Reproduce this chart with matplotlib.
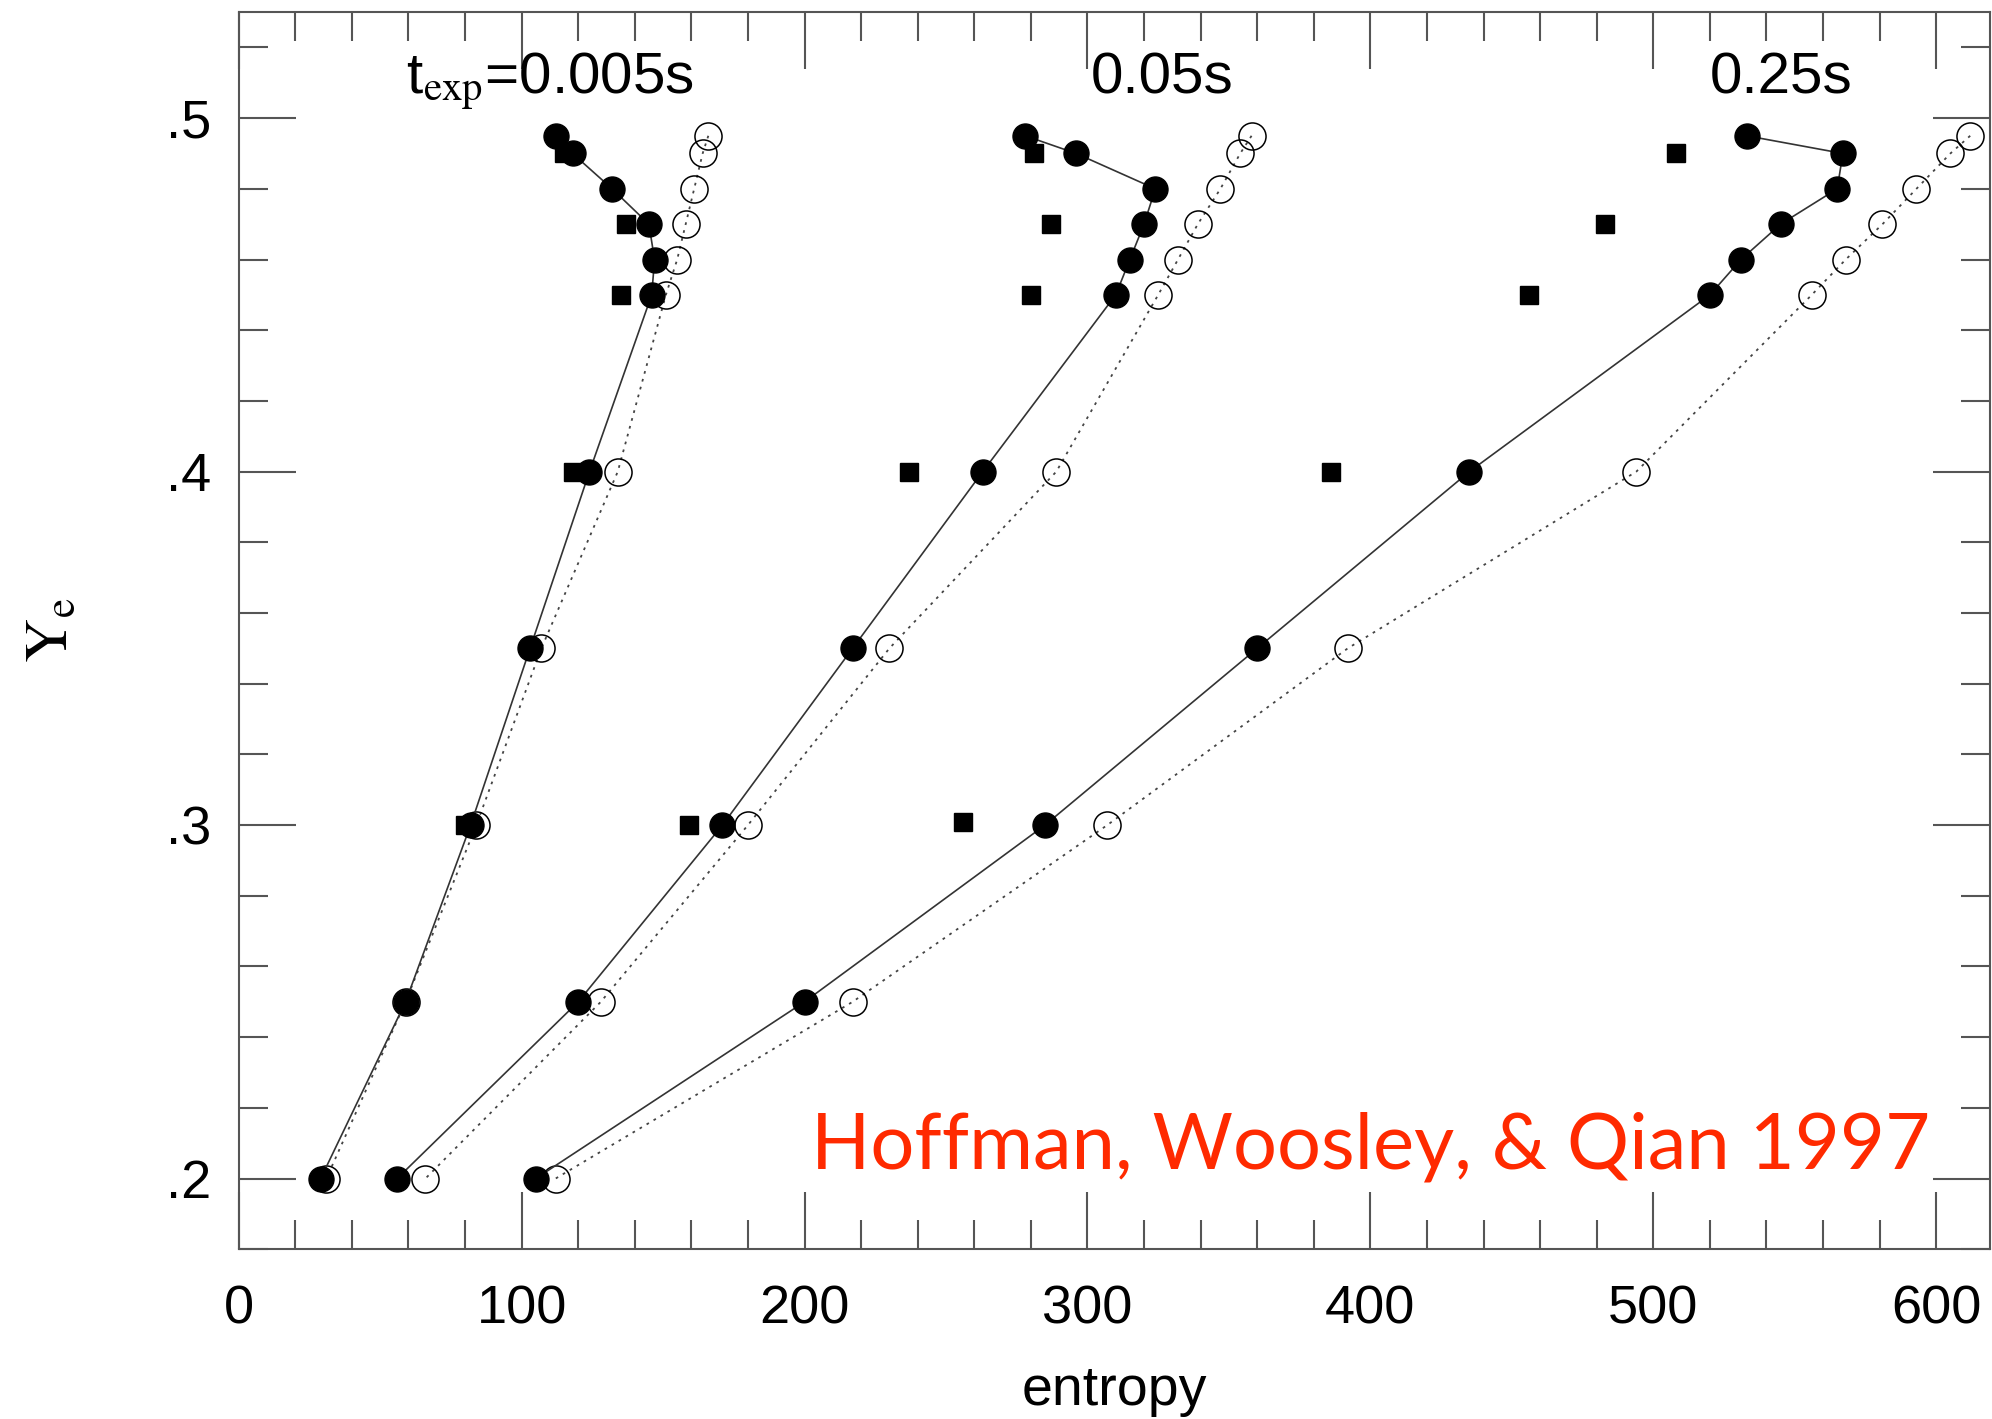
"""Electron fraction Ye vs entropy for three expansion timescales
(Hoffman, Woosley & Qian 1997)."""

import matplotlib
matplotlib.use("Agg")
import matplotlib.pyplot as plt
from matplotlib.ticker import FuncFormatter, MultipleLocator

plt.rcParams["font.family"] = ["Liberation Sans", "DejaVu Sans"]
plt.rcParams["mathtext.fontset"] = "stix"

# Ye levels shared by the circle curves
ye = [0.495, 0.49, 0.48, 0.47, 0.46, 0.45, 0.40, 0.35, 0.30, 0.25, 0.20]
# Ye levels of the square points
ye_sq = [0.49, 0.47, 0.45, 0.40, 0.30]

# filled circles (solid line)
s_fill_005 = [112, 118, 132, 145, 147, 146, 124, 103, 82, 59, 29]
s_fill_05 = [278, 296, 324, 320, 315, 310, 263, 217, 171, 120, 56]
s_fill_25 = [533, 567, 565, 545, 531, 520, 435, 360, 285, 200, 105]

# open circles (dotted line)
s_open_005 = [166, 164, 161, 158, 155, 151, 134, 107, 84, 59, 31]
s_open_05 = [358, 354, 347, 339, 332, 325, 289, 230, 180, 128, 66]
s_open_25 = [612, 605, 593, 581, 568, 556, 494, 392, 307, 217, 112]

# filled squares (no line)
s_sq_005 = [115, 137, 135, 118, 80]
s_sq_05 = [281, 287, 280, 237, 159]
s_sq_25 = [508, 483, 456, 386, 256]
ye_sq_25 = [0.49, 0.47, 0.45, 0.40, 0.301]

labels = [r"t$_{\rm exp}$=0.005s", "0.05s", "0.25s"]
label_x = [59, 301, 520]

LINE = "#333333"

fig = plt.figure(figsize=(19.92, 14.19), dpi=100)
ax = fig.add_axes([0.1198, 0.1196, 0.8792, 0.8719])

for xo in (s_open_005, s_open_05, s_open_25):
    ax.plot(xo, ye, ls=(0, (1.5, 3)), lw=1.3, color="#444444", marker="o",
            ms=19.5, mfc="none", mec="black", mew=1.1)

for xs, ys in ((s_sq_005, ye_sq), (s_sq_05, ye_sq), (s_sq_25, ye_sq_25)):
    ax.plot(xs, ys, ls="none", marker="s", ms=13, color="black")

for xf in (s_fill_005, s_fill_05, s_fill_25):
    ax.plot(xf, ye, ls="-", lw=1.2, color=LINE, marker="o", ms=18,
            mfc="black", mec="black")

for txt, x in zip(labels, label_x):
    ax.text(x, 0.507, txt, fontsize=42, ha="left", va="baseline")

ax.text(598, 0.2028, "Hoffman, Woosley, & Qian 1997", color="#ff2a00",
        fontsize=56, family=["Lato", "DejaVu Sans"], ha="right",
        va="baseline")

ax.set_xlim(0, 619)
ax.set_ylim(0.180, 0.530)
ax.xaxis.set_major_locator(MultipleLocator(100))
ax.xaxis.set_minor_locator(MultipleLocator(20))
ax.yaxis.set_major_locator(MultipleLocator(0.1))
ax.yaxis.set_minor_locator(MultipleLocator(0.02))
ax.yaxis.set_major_formatter(FuncFormatter(lambda v, _: f"{v:.1f}".lstrip("0")))

ax.tick_params(which="both", direction="in", top=True, right=True,
               color="#555555", width=1.5, labelsize=39)
ax.tick_params(which="major", length=41)
ax.tick_params(which="minor", length=21)
ax.tick_params(axis="x", pad=25)
ax.tick_params(axis="y", pad=20)
for sp in ax.spines.values():
    sp.set_color("#555555")
    sp.set_linewidth(1.5)

ax.set_xlabel("entropy", fontsize=40, labelpad=22)
ax.set_ylabel(r"$\mathrm{Y_e}$", fontsize=44, labelpad=62)

fig.savefig("out.png", dpi=100)
